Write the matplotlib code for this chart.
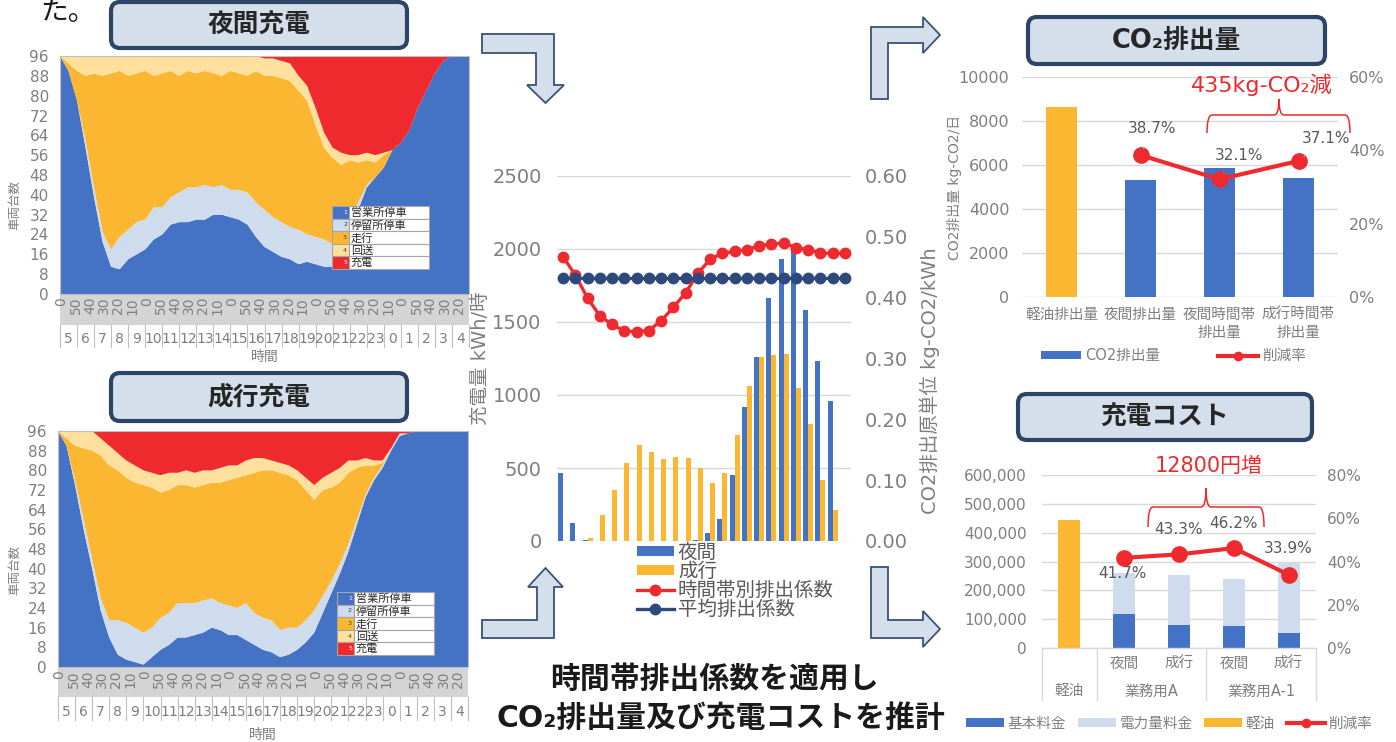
import numpy as np
import matplotlib
matplotlib.use('Agg')
import matplotlib.pyplot as plt
import matplotlib.ticker as ticker
from matplotlib.patches import FancyBboxPatch, Polygon, Rectangle, PathPatch, Patch
from matplotlib.path import Path
from matplotlib.lines import Line2D

plt.rcParams['font.family'] = ['DejaVu Sans', 'Noto Sans CJK JP']

W, H = 1396, 742

BLUE = '#4472c4'
LBLUE = '#cfdcee'
ORANGE = '#fbb632'
LYELLOW = '#ffe09c'
RED = '#ee2a2e'
NAVY = '#2e4a7d'
GRAY = '#7f7f7f'
DGRAY = '#595959'
GRID = '#d9d9d9'

# ---------------- vehicle status (every 30 min from 5:00) ----------------
hours = np.arange(0, 24.5, 0.5)
status_names = ['営業所停車', '停留所停車', '走行', '回送', '充電']
hour_labels = ['5', '6', '7', '8', '9', '10', '11', '12', '13', '14', '15', '16',
               '17', '18', '19', '20', '21', '22', '23', '0', '1', '2', '3', '4']
minute_labels = ['0', '50', '40', '30', '20', '10']

# 夜間充電
night_depot = [96, 90, 78, 59, 39, 21, 11, 10, 14, 16, 18, 22, 24, 28, 29, 29, 30, 30, 32, 32,
               31, 30, 28, 23, 19, 17, 15, 14, 12, 13, 12, 11, 11, 16, 25, 34, 43, 47, 51, 58,
               61, 66, 75, 82, 89, 94, 96, 96, 96]
night_stop = [0, 0, 0, 3, 4, 4, 7, 13, 12, 13, 12, 13, 11, 11, 12, 14, 13, 14, 11, 12,
              11, 12, 13, 14, 15, 14, 14, 13, 14, 11, 11, 11, 9, 6, 5, 3, 1, 0, 0, 0,
              0, 0, 0, 0, 0, 0, 0, 0, 0]
night_run = [0, 3, 12, 26, 46, 63, 71, 67, 62, 60, 60, 53, 54, 51, 47, 47, 46, 46, 46, 44,
             48, 47, 47, 53, 54, 57, 58, 59, 56, 54, 45, 37, 35, 30, 24, 16, 10, 6, 5, 0,
             0, 0, 0, 0, 0, 0, 0, 0, 0]
night_dead = [0, 3, 6, 8, 7, 8, 7, 6, 8, 7, 6, 8, 7, 6, 8, 6, 7, 6, 7, 8,
              6, 7, 8, 6, 7, 7, 7, 7, 6, 6, 7, 6, 4, 5, 2, 3, 3, 3, 1, 0,
              0, 0, 0, 0, 0, 0, 0, 0, 0]
night_charge = [0, 0, 0, 0, 0, 0, 0, 0, 0, 0, 0, 0, 0, 0, 0, 0, 0, 0, 0, 0,
                0, 0, 0, 0, 1, 1, 2, 3, 8, 12, 21, 31, 37, 39, 40, 40, 39, 40, 39, 38,
                35, 30, 21, 14, 7, 2, 0, 0, 0]

# 成行充電
free_depot = [96, 90, 74, 56, 40, 23, 12, 5, 3, 2, 1, 4, 7, 9, 12, 12, 13, 14, 16, 15,
              13, 13, 11, 9, 7, 6, 4, 5, 7, 10, 14, 22, 30, 38, 47, 58, 69, 76, 81, 88,
              94, 95, 96, 96, 96, 96, 96, 96, 96]
free_stop = [0, 0, 2, 4, 4, 5, 7, 14, 15, 14, 13, 12, 13, 13, 14, 14, 13, 13, 12, 11,
             12, 11, 15, 13, 13, 13, 11, 11, 9, 9, 9, 7, 5, 4, 3, 2, 1, 1, 1, 1,
             1, 0, 0, 0, 0, 0, 0, 0, 0]
free_run = [0, 3, 14, 29, 44, 58, 63, 61, 59, 59, 60, 57, 51, 50, 48, 48, 47, 47, 47, 49,
            51, 53, 52, 57, 60, 61, 64, 62, 60, 53, 45, 43, 38, 33, 29, 21, 12, 5, 1, 0,
            0, 0, 0, 0, 0, 0, 0, 0, 0]
free_dead = [0, 3, 6, 7, 8, 7, 8, 7, 7, 7, 6, 6, 7, 7, 5, 6, 6, 6, 5, 6,
             6, 5, 6, 6, 5, 4, 4, 4, 4, 5, 6, 5, 6, 6, 5, 3, 3, 2, 1, 0,
             0, 0, 0, 0, 0, 0, 0, 0, 0]
free_charge = [0, 0, 0, 0, 0, 3, 6, 9, 12, 14, 16, 17, 18, 17, 17, 16, 17, 16, 16, 15,
               14, 14, 12, 11, 11, 12, 13, 14, 16, 19, 22, 19, 17, 15, 12, 12, 11, 12, 12, 7,
               1, 1, 0, 0, 0, 0, 0, 0, 0]

# ---------------- hourly charging and emission factor ----------------
night_kwh = [463, 121, 7, 0, 0, 0, 0, 0, 0, 0, 0, 7, 52, 150, 452, 920, 1260, 1667, 1934, 2010,
             1580, 1231, 961, 0]
free_kwh = [0, 0, 23, 178, 349, 532, 655, 612, 562, 573, 571, 498, 400, 463, 726, 1062, 1263, 1274,
            1281, 1050, 799, 418, 212, 0]
hourly_factor = [0.467, 0.437, 0.399, 0.370, 0.356, 0.345, 0.344, 0.346, 0.362, 0.384, 0.408, 0.440,
                 0.463, 0.473, 0.476, 0.479, 0.485, 0.488, 0.490, 0.482, 0.479, 0.473, 0.473, 0.473]
avg_factor = [0.433, 0.433, 0.433, 0.433, 0.433, 0.433, 0.433, 0.433, 0.433, 0.433, 0.433, 0.433,
              0.433, 0.433, 0.433, 0.433, 0.433, 0.433, 0.433, 0.433, 0.433, 0.433, 0.433, 0.433]

# ---------------- CO2 emissions ----------------
co2_cats = ['軽油排出量', '夜間排出量', '夜間時間帯\n排出量', '成行時間帯\n排出量']
co2_vals = [8640, 5300, 5865, 5430]
co2_rate = [0.387, 0.321, 0.371]
co2_rate_labels = ['38.7%', '32.1%', '37.1%']

# ---------------- charging cost ----------------
cost_sub = ['夜間', '成行', '夜間', '成行']
cost_groups = ['軽油', '業務用A', '業務用A-1']
diesel_cost = [443600]
base_fee = [119000, 79000, 76500, 51000]
energy_fee = [139600, 172500, 162200, 242200]
cost_rate = [0.417, 0.433, 0.462, 0.339]
cost_rate_labels = ['41.7%', '43.3%', '46.2%', '33.9%']

fig = plt.figure(figsize=(W / 100, H / 100), dpi=100)
fig.patch.set_facecolor('white')

ov = fig.add_axes([0, 0, 1, 1], zorder=5)
ov.set_xlim(0, W)
ov.set_ylim(H, 0)
ov.axis('off')


def px_axes(x0, y0, x1, y1):
    return fig.add_axes([x0 / W, 1 - y1 / H, (x1 - x0) / W, (y1 - y0) / H])


def area_chart(box, series, leg, band_px, cell_px, hour_y, xlab_y, ylab_y):
    x0, y0, x1, y1 = box
    ax = px_axes(*box)
    ax.stackplot(hours, *series, colors=[BLUE, LBLUE, ORANGE, LYELLOW, RED], linewidth=0)
    ax.set_xlim(0, 24)
    ax.set_ylim(0, 96)
    ax.set_yticks(range(0, 97, 8))
    ax.set_xticks([])
    ax.tick_params(axis='y', length=0, labelsize=11, labelcolor=GRAY, pad=8)
    for s in ax.spines.values():
        s.set_color('#bfbfbf')
        s.set_linewidth(0.8)
    hh = y1 - y0

    def fy(py):
        return (y1 - py) / hh
    tr = ax.get_xaxis_transform()
    ax.add_patch(Rectangle((0, fy(band_px)), 24, -fy(band_px), transform=tr, clip_on=False,
                           fc='#d4d4d4', ec='none'))
    for k in range(29):
        ax.text(k * 50 / 60 + 1 / 12, fy(y1 + 3), minute_labels[k % 6], transform=tr,
                rotation=90, ha='center', va='top', fontsize=10, color=GRAY)
    for i in range(25):
        ax.plot([i, i], [fy(band_px), fy(cell_px)], transform=tr, clip_on=False,
                color='#bfbfbf', lw=0.8)
    for i, lab in enumerate(hour_labels):
        ax.text(i + 0.5, fy(hour_y), lab, transform=tr, ha='center', va='center',
                fontsize=10, color=GRAY)
    ax.text(12, fy(xlab_y), '時間', transform=tr, ha='center', va='center', fontsize=10, color=GRAY)
    ax.text((15 - x0) / (x1 - x0), fy(ylab_y), '車両台数', transform=ax.transAxes, rotation=90,
            ha='center', va='center', fontsize=9, color=GRAY)

    lx0, ly0, lx1, ly1 = leg
    rh = (ly1 - ly0) / 5
    cols = [BLUE, LBLUE, ORANGE, LYELLOW, RED]
    for i, name in enumerate(status_names):
        yy = ly0 + i * rh
        ov.add_patch(Rectangle((lx0, yy), 17, rh, fc=cols[i], ec='#a6a6a6', lw=0.8))
        ov.add_patch(Rectangle((lx0 + 17, yy), lx1 - lx0 - 17, rh, fc='white', ec='#a6a6a6', lw=0.8))
        ov.text(lx0 + 15, yy + rh / 2, str(i + 1), fontsize=4.5, ha='right', va='center',
                color='white' if i in (0, 4) else '#404040')
        ov.text(lx0 + 19, yy + rh / 2 + 0.5, name, fontsize=8, ha='left', va='center', color='#262626')
    return ax


area_chart((60, 56, 469, 294),
           [night_depot, night_stop, night_run, night_dead, night_charge],
           (332, 206, 429, 269), 325, 347, 339, 357, 205)
area_chart((58, 431, 468, 667),
           [free_depot, free_stop, free_run, free_dead, free_charge],
           (337, 592, 434, 655), 697, 720, 712, 735, 570)

# ---------------- middle chart ----------------
slots = np.arange(24)
axm = px_axes(557, 176, 851, 541)
axm.bar(slots - 0.2, night_kwh, width=0.4, color=BLUE, zorder=2)
axm.bar(slots + 0.2, free_kwh, width=0.4, color=ORANGE, zorder=2)
axm.set_xlim(-0.5, 23.5)
axm.set_ylim(0, 2500)
axm.set_yticks(range(0, 2501, 500))
axm.set_xticks([])
axm.yaxis.grid(True, color=GRID, lw=1, zorder=0)
axm.set_axisbelow(True)
for s in axm.spines.values():
    s.set_visible(False)
axm.tick_params(axis='y', length=0, labelsize=14, labelcolor=GRAY, pad=11)
axm2 = axm.twinx()
axm2.plot(slots, hourly_factor, color=RED, lw=2.4, marker='o', ms=7.5)
axm2.plot(slots, avg_factor, color=NAVY, lw=2.4, marker='o', ms=7.5)
axm2.set_ylim(0, 0.6)
axm2.set_yticks(np.arange(0, 0.61, 0.1))
axm2.yaxis.set_major_formatter(ticker.FormatStrFormatter('%.2f'))
axm2.tick_params(axis='y', length=0, labelsize=14, labelcolor=GRAY, pad=10)
for s in axm2.spines.values():
    s.set_visible(False)
axm.text((480 - 557) / 294, 0.5, '充電量 kWh/時', transform=axm.transAxes, rotation=90,
         ha='center', va='center', fontsize=14, color=GRAY)
axm.text((930 - 557) / 294, 0.44, 'CO2排出原単位 kg-CO2/kWh', transform=axm.transAxes, rotation=90,
         ha='center', va='center', fontsize=14, color=GRAY)
mid_handles = [Patch(fc=BLUE), Patch(fc=ORANGE),
               Line2D([], [], color=RED, lw=2.4, marker='o', ms=7.5),
               Line2D([], [], color=NAVY, lw=2.4, marker='o', ms=7.5)]
axm2.legend(mid_handles, ['夜間', '成行', '時間帯別排出係数', '平均排出係数'],
            loc='upper left', bbox_to_anchor=((637 - 557) / 294, -0.005), frameon=False,
            fontsize=14, labelspacing=0, handlelength=1.9, handleheight=0.45, handletextpad=0.2,
            borderpad=0, borderaxespad=0, labelcolor=DGRAY)

# ---------------- CO2 chart ----------------
axc = px_axes(1022, 77, 1338, 297)
cats = np.arange(len(co2_cats))
axc.bar(cats, co2_vals, width=0.4, color=[ORANGE, BLUE, BLUE, BLUE], zorder=2)
axc.set_xlim(-0.5, 3.5)
axc.set_ylim(0, 10000)
axc.set_yticks(range(0, 10001, 2000))
axc.set_xticks(cats)
axc.set_xticklabels(co2_cats, fontsize=10.5, color=GRAY, linespacing=1.25)
axc.yaxis.grid(True, color=GRID, lw=1)
axc.set_axisbelow(True)
for s in axc.spines.values():
    s.set_visible(False)
axc.tick_params(axis='y', length=0, labelsize=11.5, labelcolor=GRAY, pad=9)
axc.tick_params(axis='x', length=0, pad=7)
axc2 = axc.twinx()
axc2.plot(cats[1:], co2_rate, color=RED, lw=3, marker='o', ms=11)
axc2.set_ylim(0, 0.6)
axc2.set_yticks([0, 0.2, 0.4, 0.6])
axc2.yaxis.set_major_formatter(ticker.PercentFormatter(1.0, decimals=0))
axc2.tick_params(axis='y', length=0, labelsize=11.5, labelcolor=GRAY, pad=8)
for s in axc2.spines.values():
    s.set_visible(False)
co2_offsets = [(8.6, 19.4), (14, 16.8), (20, 16)]
for xi, r, lab, off in zip(cats[1:], co2_rate, co2_rate_labels, co2_offsets):
    axc2.annotate(lab, xy=(xi, r), xytext=off, textcoords='offset points', ha='center', va='center',
                  fontsize=11, color=DGRAY,
                  arrowprops=dict(arrowstyle='-', color='#a6a6a6', lw=0.8, shrinkA=7, shrinkB=5))
axc.text(-67 / 316, 0.5, 'CO2排出量 kg-CO2/日', transform=axc.transAxes, rotation=90,
         ha='center', va='center', fontsize=10, color=GRAY)
axc2.legend([Patch(fc=BLUE), Line2D([], [], color=RED, lw=3, marker='o', ms=6)], ['CO2排出量', '削減率'],
            loc='center', bbox_to_anchor=(0.48, -0.268), ncol=2, frameon=False, fontsize=10.5,
            handlelength=2.7, handleheight=0.5, handletextpad=0.3, columnspacing=4, labelcolor=GRAY)

# ---------------- cost chart ----------------
axk = px_axes(1042, 475, 1316, 648)
kc = np.arange(5)
axk.bar(kc[:1], diesel_cost, width=0.4, color=ORANGE, zorder=2)
axk.bar(kc[1:], base_fee, width=0.4, color=BLUE, zorder=2)
axk.bar(kc[1:], energy_fee, width=0.4, bottom=base_fee, color=LBLUE, zorder=2)
axk.set_xlim(-0.5, 4.5)
axk.set_ylim(0, 600000)
axk.set_yticks(range(0, 600001, 100000))
axk.yaxis.set_major_formatter(ticker.StrMethodFormatter('{x:,.0f}'))
axk.set_xticks([])
axk.yaxis.grid(True, color=GRID, lw=1)
axk.set_axisbelow(True)
for s in axk.spines.values():
    s.set_visible(False)
axk.tick_params(axis='y', length=0, labelsize=11, labelcolor=GRAY, pad=11)
axk2 = axk.twinx()
axk2.plot(kc[1:], cost_rate, color=RED, lw=3, marker='o', ms=11)
axk2.set_ylim(0, 0.8)
axk2.set_yticks([0, 0.2, 0.4, 0.6, 0.8])
axk2.yaxis.set_major_formatter(ticker.PercentFormatter(1.0, decimals=0))
axk2.tick_params(axis='y', length=0, labelsize=11, labelcolor=GRAY, pad=8)
for s in axk2.spines.values():
    s.set_visible(False)
cost_offsets = [(-1.4, -11), (0, 18), (0, 18), (0, 18.5)]
for xi, r, lab, off in zip(kc[1:], cost_rate, cost_rate_labels, cost_offsets):
    axk2.annotate(lab, xy=(xi, r), xytext=off, textcoords='offset points', ha='center', va='center',
                  fontsize=11, color=DGRAY)
ktr = axk.get_xaxis_transform()
axk.plot([-0.5, 4.5], [0, 0], transform=ktr, color=GRID, lw=1, clip_on=False)
for xs in [-0.5, 0.5, 2.5, 4.5]:
    axk.plot([xs, xs], [0, -52 / 173], transform=ktr, color=GRID, lw=1, clip_on=False)
for xi, lab in zip(kc[1:], cost_sub):
    axk.text(xi, -15 / 173, lab, transform=ktr, ha='center', va='center', fontsize=10.5, color=GRAY)
for xg, lab in zip([0, 1.5, 3.5], cost_groups):
    axk.text(xg, -43 / 173, lab, transform=ktr, ha='center', va='center', fontsize=10.5, color=GRAY)
axk2.legend([Patch(fc=BLUE), Patch(fc=LBLUE), Patch(fc=ORANGE),
             Line2D([], [], color=RED, lw=3, marker='o', ms=6)],
            ['基本料金', '電力量料金', '軽油', '削減率'],
            loc='center', bbox_to_anchor=(0.464, -0.434), ncol=4, frameon=False, fontsize=10.5,
            handlelength=2.6, handleheight=0.5, handletextpad=0.25, columnspacing=0.8, labelcolor=GRAY)

# ---------------- decorations ----------------
for (x0, y0, x1, y1), title in [((111, 2, 407, 48), '夜間充電'), ((111, 373, 407, 421), '成行充電'),
                                ((1028, 17, 1325, 64), 'CO₂排出量'), ((1018, 394, 1312, 440), '充電コスト')]:
    ov.add_patch(FancyBboxPatch((x0, y0), x1 - x0, y1 - y0, boxstyle='round,pad=0,rounding_size=9',
                                fc='#d5dfeb', ec='#2c4566', lw=3))
    ov.text((x0 + x1) / 2, (y0 + y1) / 2, title, ha='center', va='center', fontsize=18.5,
            fontweight='bold', color='#262626')

arrows = [
    [(482, 34), (554, 34), (554, 85), (564, 85), (545.5, 103), (527, 85), (536, 85), (536, 53), (482, 53)],
    [(871, 99), (871, 27), (923, 27), (923, 17), (940, 35), (923, 53), (923, 43), (888, 43), (888, 99)],
    [(482, 638), (482, 620), (537, 620), (537, 587), (528, 587), (545.5, 568), (563, 587), (554, 587), (554, 638)],
    [(871, 567), (888, 567), (888, 620), (923, 620), (923, 611), (940, 629), (923, 647), (923, 638), (871, 638)],
]
for pts in arrows:
    ov.add_patch(Polygon(pts, closed=True, fc='#d5dfeb', ec='#3a5275', lw=1.3))


def brace(x0, x1, xt, yt, yb, ytip):
    r = 5
    verts = [(x0, yb), (x0, yt), (x0 + r, yt), (xt - r, yt), (xt, yt), (xt, ytip),
             (xt, yt), (xt + r, yt), (x1 - r, yt), (x1, yt), (x1, yb)]
    codes = [Path.MOVETO, Path.CURVE3, Path.CURVE3, Path.LINETO, Path.CURVE3, Path.CURVE3,
             Path.CURVE3, Path.CURVE3, Path.LINETO, Path.CURVE3, Path.CURVE3]
    ov.add_patch(PathPatch(Path(verts, codes), fc='none', ec=RED, lw=1.1))


brace(1207, 1350, 1279, 115, 133, 99)
brace(1148, 1264, 1206, 507, 527, 488)
ov.text(1262, 85, '435kg-CO₂減', color=RED, fontsize=16, ha='center', va='center')
ov.text(1209, 466, '12800円増', color=RED, fontsize=15, ha='center', va='center')

ov.text(40, 12, 'た。', fontsize=20, ha='left', va='center', color='#1a1a1a')
ov.text(714, 679, '時間帯排出係数を適用し', fontsize=21.5, fontweight='bold', ha='center', va='center',
        color='#1a1a1a')
ov.text(721, 718, 'CO₂排出量及び充電コストを推計', fontsize=21.5, fontweight='bold', ha='center',
        va='center', color='#1a1a1a')

fig.savefig('out.png', dpi=100, facecolor='white')
